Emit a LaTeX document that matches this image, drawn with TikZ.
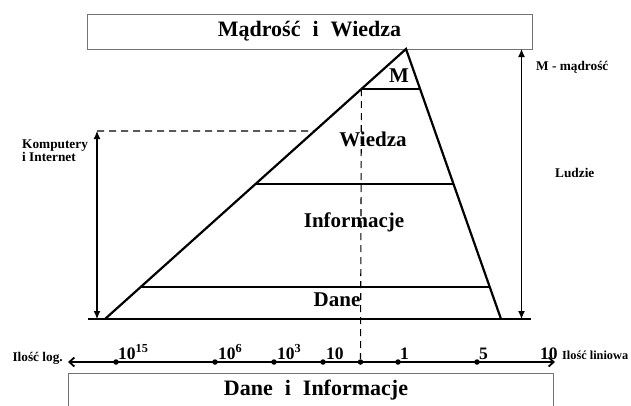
\documentclass[tikz,border=0pt]{standalone}
\usepackage{fontspec}
\setmainfont{Liberation Serif}
\usetikzlibrary{arrows.meta,calc}
\begin{document}
\begin{tikzpicture}[x=1pt,y=-1pt,
  box/.style={draw=black!55, line width=1pt},
  title/.style={font=\bfseries\fontsize{22}{24}\selectfont, inner sep=0pt},
  lvl/.style={font=\bfseries\fontsize{21}{23}\selectfont, inner sep=0pt},
  lab/.style={font=\bfseries\fontsize{13.3}{13.3}\selectfont, inner sep=0pt},
  tick/.style={font=\bfseries\fontsize{17.5}{18}\selectfont, anchor=base west, inner sep=0pt},
  edge/.style={line width=2.2pt},
  dim/.style={line width=1.1pt, {Latex[length=8pt,width=7pt]}-{Latex[length=8pt,width=7pt]}},
  dashline/.style={line width=1.1pt, dash pattern=on 7pt off 5pt},
  axisdot/.style={circle, fill, inner sep=0pt, minimum size=5.5pt}]
\clip (0,0) rectangle (631,405);
\fill[white] (0,0) rectangle (631,405);
% boxes
\node[box, minimum width=445pt, minimum height=35pt, title] (topbox) at (309.5,31.5)
  {M\k{a}dro\'s\'c\hspace{12pt}i\hspace{12pt}Wiedza};
\draw[box] (68,420) -- (68,373) coordinate (bbl) -- (553,373) coordinate (bbr) -- (553,420);
\node[title] (bottitle) at (316,390) {Dane\hspace{12pt}i\hspace{12pt}Informacje};
% pyramid
\coordinate (A) at (406,49);
\coordinate (BL) at (105,319);
\coordinate (BR) at (501,319);
\coordinate (G0) at (88,319);
\coordinate (G1) at (531,319);
\draw[edge, line join=miter] (BL) -- (A) -- (BR);
\draw[line width=2.6pt] (G0) -- (G1);
\draw[edge] ($(A)!{40/270}!(BL)$) coordinate (m1) -- ($(A)!{40/270}!(BR)$) coordinate (m2);
\draw[edge] ($(A)!{135/270}!(BL)$) coordinate (w1) -- ($(A)!{135/270}!(BR)$) coordinate (w2);
\draw[edge] ($(A)!{238/270}!(BL)$) coordinate (d1) -- ($(A)!{238/270}!(BR)$) coordinate (d2);
\node[lvl] (lM) at (399,76) {M};
\node[lvl] (lW) at (373,139) {Wiedza};
\node[lvl] (lI) at (354,222) {Informacje};
\node[lvl] (lD) at (337,300) {Dane};
% axis
\coordinate (axL) at (68,362);
\coordinate (axR) at (555,362);
\draw[line width=1.8pt, {Straight Barb[length=5pt,width=9pt]}-{Straight Barb[length=5pt,width=9pt]}] (axL) -- (axR);
\node[axisdot] (t1) at (116,362) {};
\node[axisdot] (t2) at (215,362) {};
\node[axisdot] (t3) at (274,362) {};
\node[axisdot] (t4) at (323,362) {};
\node[axisdot] (t5) at (360.5,362) {};
\node[axisdot] (t6) at (398,362) {};
\node[axisdot] (t7) at (477,362) {};
\node[tick] (n1) at (118,359) {10$^{\mathbf{15}}$};
\node[tick] (n2) at (218,359) {10$^{\mathbf{6}}$};
\node[tick] (n3) at (277,359) {10$^{\mathbf{3}}$};
\node[tick] (n4) at (326,359) {10};
\node[tick] (n6) at (400,359) {1};
\node[tick] (n7) at (479,359) {5};
\node[tick] (n8) at (540,359) {10};
\node[lab, anchor=base east] (ilog) at (63,361) {Ilo\'s\'c log.};
\node[lab, anchor=base west, font=\bfseries\fontsize{12.3}{12.3}\selectfont] (ilin) at (562,359) {Ilo\'s\'c liniowa};
% dashed guides
\draw[dashline] (m1) -- (t5);
\coordinate (kTop) at (97,131);
\coordinate (kBot) at (97,319);
\draw[dashline] (kTop) -- ($(A)!{82/270}!(BL)$) coordinate (kEnd);
% dimension arrows
\draw[dim] (kTop) -- (kBot);
\coordinate (lTop) at (521.5,49);
\coordinate (lBot) at (521.5,319);
\draw[dim] (lTop) -- (lBot);
\node[lab, anchor=base west] (komp1) at (22,148) {Komputery};
\node[lab, anchor=base west] (komp2) at (22,161) {i Internet};
\node[lab, anchor=base west] (mm) at (536,70) {M - m\k{a}dro\'s\'c};
\node[lab, anchor=base west] (lud) at (555,177) {Ludzie};
\end{tikzpicture}
\end{document}
